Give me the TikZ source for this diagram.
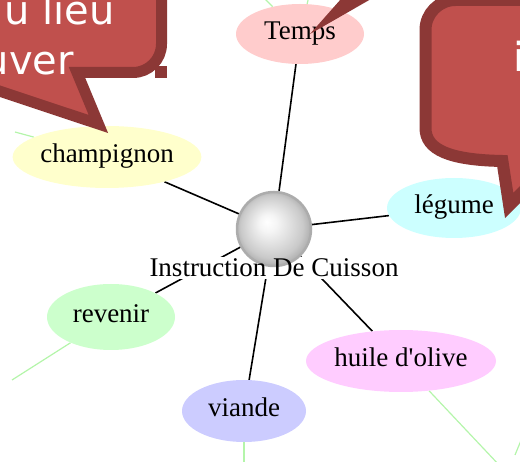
\documentclass[tikz,border=0pt]{standalone}
\usepackage{fontspec}
\setmainfont{Liberation Serif}[Ligatures=TeXOff]
\newfontfamily\bubblefont{DejaVu Sans}
\usetikzlibrary{shapes.geometric}
\pgfdeclarelayer{background}
\pgfsetlayers{background,main}

\definecolor{bubblefill}{RGB}{192,80,77}
\definecolor{bubbleedge}{RGB}{140,56,54}
\definecolor{trailgreen}{RGB}{180,245,170}
\definecolor{tempsfill}{RGB}{255,204,204}
\definecolor{champfill}{RGB}{255,255,204}
\definecolor{legumefill}{RGB}{204,255,255}
\definecolor{revenirfill}{RGB}{204,255,204}
\definecolor{viandefill}{RGB}{204,204,255}
\definecolor{huilefill}{RGB}{255,204,255}

% light grey ball for the central topic
\pgfdeclareradialshading{hubball}{\pgfpoint{-5bp}{5bp}}{%
  color(0bp)=(white); color(6bp)=(gray!8); color(15bp)=(gray!28);
  color(21bp)=(gray!42); color(25bp)=(gray!60); color(30bp)=(gray!60)}

\begin{document}
\begin{tikzpicture}[x=1pt,y=-1pt,
  topic/.style={ellipse, inner sep=0pt, text height=18pt, text depth=6pt,
    font=\fontsize{27}{30}\selectfont},
  link/.style={line width=1.6pt, black},
  trail/.style={line width=1.2pt, trailgreen},
  bubble/.style={fill=bubblefill, draw=bubbleedge, line width=11pt,
    line join=miter, miter limit=10},
  bubbletext/.style={text=white, inner sep=0pt,
    font=\bubblefont\fontsize{40}{48}\selectfont}]

\useasboundingbox (0,0) rectangle (520,462);
\clip (0,0) rectangle (520,462);

% central topic
\node[circle, minimum size=74pt, inner sep=0pt, shade, shading=hubball,
      draw=gray!65, line width=2.5pt] (hub) at (274,229) {};
\node[font=\fontsize{27}{30}\selectfont, inner sep=2pt, anchor=base]
      (hubname) at (274,277) {Instruction De Cuisson};

% surrounding topics
\node[topic, fill=tempsfill,   minimum width=128pt, minimum height=60pt] (temps)      at (300,34)  {Temps};
\node[topic, fill=champfill,   minimum width=186pt, minimum height=62pt] (champignon) at (107,157) {champignon};
\node[topic, fill=legumefill,  minimum width=134pt, minimum height=60pt] (legume)     at (454,208) {légume};
\node[topic, fill=revenirfill, minimum width=128pt, minimum height=66pt] (revenir)    at (111,317) {revenir};
\node[topic, fill=viandefill,  minimum width=124pt, minimum height=62pt] (viande)     at (244,411) {viande};
\node[topic, fill=huilefill,   minimum width=190pt, minimum height=62pt] (huile)      at (401,361) {huile d'olive};

% loose ends leading away from the outer topics
\coordinate (tA) at (262,-4);
\coordinate (tB) at (309,-4);
\coordinate (cA) at (15,132);
\coordinate (rA) at (12,380);
\coordinate (vA) at (244,466);
\coordinate (hA) at (500,466);
\coordinate (xA) at (515,455);
\coordinate (xB) at (522,438);

\begin{pgfonlayer}{background}
  \draw[link] (hub) -- (temps);
  \draw[link] (hub) -- (champignon);
  \draw[link] (hub) -- (legume);
  \draw[link] (hub) -- (revenir);
  \draw[link] (hub) -- (viande);
  \draw[link] (hub) -- (huile);
  \fill[white] (hubname.south west) rectangle (hubname.north east);
  \draw[trail] (temps) -- (tA);
  \draw[trail] (temps) -- (tB);
  \draw[trail] (champignon) -- (cA);
  \draw[trail] (revenir) -- (rA);
  \draw[trail] (viande) -- (vA);
  \draw[trail] (huile) -- (hA);
  \draw[trail] (xA) -- (xB);
\end{pgfonlayer}

% speech bubbles
\path[bubble] (-20,-20) -- (161.5,-20) -- (161.5,44)
  arc[start angle=0, end angle=90, radius=28.5]
  -- (77,72.5) -- (98.4,124) -- (-20,84.6) -- cycle;
\node[bubbletext, anchor=base east] (bubbleA1) at (115,25) {u lieu};
\node[bubbletext, anchor=base east] (bubbleA2) at (74,75) {uver};
\fill[bubbleedge] (155,66) rectangle (167,78);

\fill[bubbleedge] (310,34) -- (341,-1) -- (371,-1) -- cycle;

\path[bubble, line width=12pt] (545,0) -- (455.5,0)
  arc[start angle=-90, end angle=-180, radius=30]
  -- (425.5,128) .. controls (425.5,150) and (450,160) .. (502.4,161)
  -- (509.2,205.5) -- (545,169.7) -- (545,0) -- cycle;
\node[bubbletext, anchor=base west] (bubbleB) at (513,72) {i};

\end{tikzpicture}
\end{document}
